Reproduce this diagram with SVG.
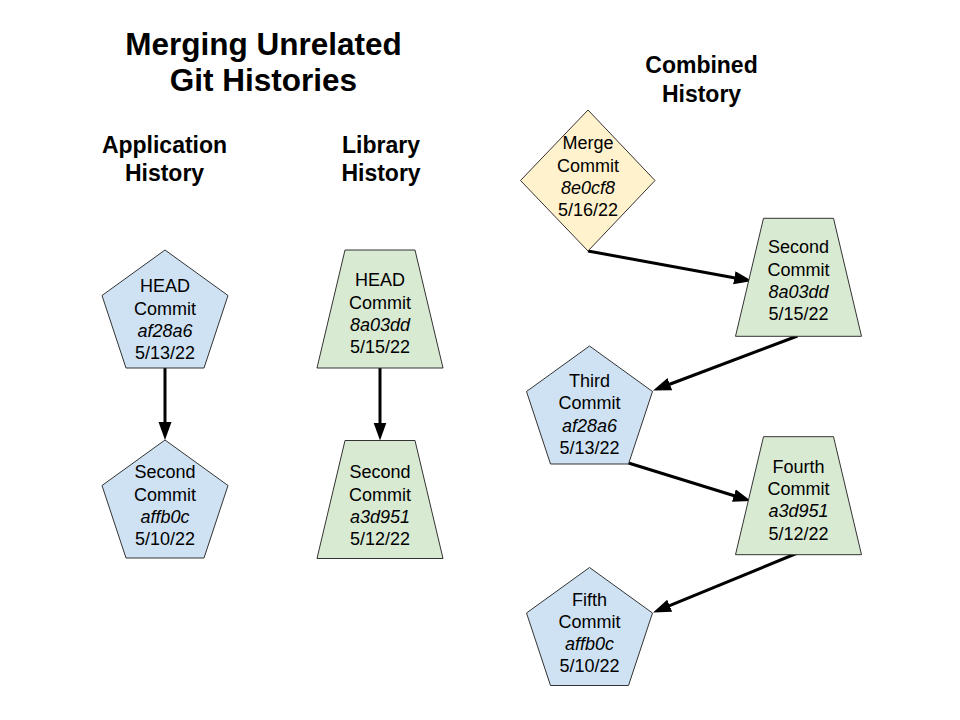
<svg xmlns="http://www.w3.org/2000/svg" width="960" height="720" viewBox="0 0 960 720">
<style>
.t{font-family:"Liberation Sans",Arial,sans-serif;font-size:18px;fill:#000;text-anchor:middle}
.i{font-style:italic}
.h{font-family:"Liberation Sans",Arial,sans-serif;font-weight:bold;font-size:23px;fill:#000;text-anchor:middle}
.title{font-family:"Liberation Sans",Arial,sans-serif;font-weight:bold;font-size:31.5px;fill:#000;text-anchor:middle}
.blue{fill:#cfe2f3;stroke:#333;stroke-width:1}
.green{fill:#d9ead3;stroke:#333;stroke-width:1}
.yellow{fill:#fff2cc;stroke:#333;stroke-width:1}
.c{stroke:#000;stroke-width:3;fill:none;marker-end:url(#ah)}
</style>
<defs>
<marker id="ah" markerUnits="userSpaceOnUse" markerWidth="20" markerHeight="14" refX="8" refY="6.5" orient="auto">
<path d="M0,0 L18,6.5 L0,13 Z" fill="#000"/>
</marker>
<polygon id="pent" points="0,0 63,45.5 39,118 -39,118 -63,45.5"/>
<polygon id="trap" points="-35,0 35,0 63,118 -63,118"/>
</defs>
<rect width="960" height="720" fill="#fff"/>
<g id="titles">
<text class="title" x="263.5" y="55">Merging Unrelated</text>
<text class="title" x="263.5" y="91">Git Histories</text>
<text class="h" x="164.5" y="153">Application</text>
<text class="h" x="164.5" y="181">History</text>
<text class="h" x="381" y="153">Library</text>
<text class="h" x="381" y="181">History</text>
<text class="h" x="701.5" y="73">Combined</text>
<text class="h" x="701.5" y="102">History</text>
</g>
<g id="connectors">
<line class="c" x1="165" y1="368" x2="165" y2="430"/>
<line class="c" x1="380" y1="368" x2="380" y2="430.5"/>
<line class="c" x1="588" y1="251" x2="742.2" y2="279.2"/>
<line class="c" x1="797.5" y1="336" x2="662.4" y2="387"/>
<line class="c" x1="628.5" y1="463" x2="741.5" y2="498"/>
<line class="c" x1="797.5" y1="553" x2="662.3" y2="608.7"/>
</g>
<g id="app-head">
<use href="#pent" class="blue" transform="translate(165,250)"/>
<text class="t" x="165" y="291.5">HEAD</text>
<text class="t" x="165" y="314.5">Commit</text>
<text class="t i" x="165" y="337">af28a6</text>
<text class="t" x="165" y="359">5/13/22</text>
</g>
<g id="app-second">
<use href="#pent" class="blue" transform="translate(165,440)"/>
<text class="t" x="165" y="478">Second</text>
<text class="t" x="165" y="500.5">Commit</text>
<text class="t i" x="165" y="523">affb0c</text>
<text class="t" x="165" y="545">5/10/22</text>
</g>
<g id="lib-head">
<use href="#trap" class="green" transform="translate(380,250)"/>
<text class="t" x="380" y="286">HEAD</text>
<text class="t" x="380" y="308.5">Commit</text>
<text class="t i" x="380" y="331">8a03dd</text>
<text class="t" x="380" y="353">5/15/22</text>
</g>
<g id="lib-second">
<use href="#trap" class="green" transform="translate(380,440.5)"/>
<text class="t" x="380" y="478">Second</text>
<text class="t" x="380" y="500.5">Commit</text>
<text class="t i" x="380" y="522.5">a3d951</text>
<text class="t" x="380" y="545">5/12/22</text>
</g>
<g id="merge">
<polygon class="yellow" points="588,110 655,180.5 588,251 520.5,180.5"/>
<text class="t" x="588" y="149">Merge</text>
<text class="t" x="588" y="171.5">Commit</text>
<text class="t i" x="588" y="193.5">8e0cf8</text>
<text class="t" x="588" y="215.5">5/16/22</text>
</g>
<g id="comb-second">
<use href="#trap" class="green" transform="translate(798.5,218.3)"/>
<text class="t" x="798.5" y="253">Second</text>
<text class="t" x="798.5" y="275.5">Commit</text>
<text class="t i" x="798.5" y="298">8a03dd</text>
<text class="t" x="798.5" y="320">5/15/22</text>
</g>
<g id="third">
<use href="#pent" class="blue" transform="translate(589.5,346)"/>
<text class="t" x="589.5" y="386.5">Third</text>
<text class="t" x="589.5" y="409">Commit</text>
<text class="t i" x="589.5" y="431.5">af28a6</text>
<text class="t" x="589.5" y="453.5">5/13/22</text>
</g>
<g id="fourth">
<use href="#trap" class="green" transform="translate(798.5,436.7)"/>
<text class="t" x="798.5" y="472.5">Fourth</text>
<text class="t" x="798.5" y="495">Commit</text>
<text class="t i" x="798.5" y="517">a3d951</text>
<text class="t" x="798.5" y="539.5">5/12/22</text>
</g>
<g id="fifth">
<use href="#pent" class="blue" transform="translate(589.5,567.5)"/>
<text class="t" x="589.5" y="605.5">Fifth</text>
<text class="t" x="589.5" y="628">Commit</text>
<text class="t i" x="589.5" y="650">affb0c</text>
<text class="t" x="589.5" y="672">5/10/22</text>
</g>
</svg>
